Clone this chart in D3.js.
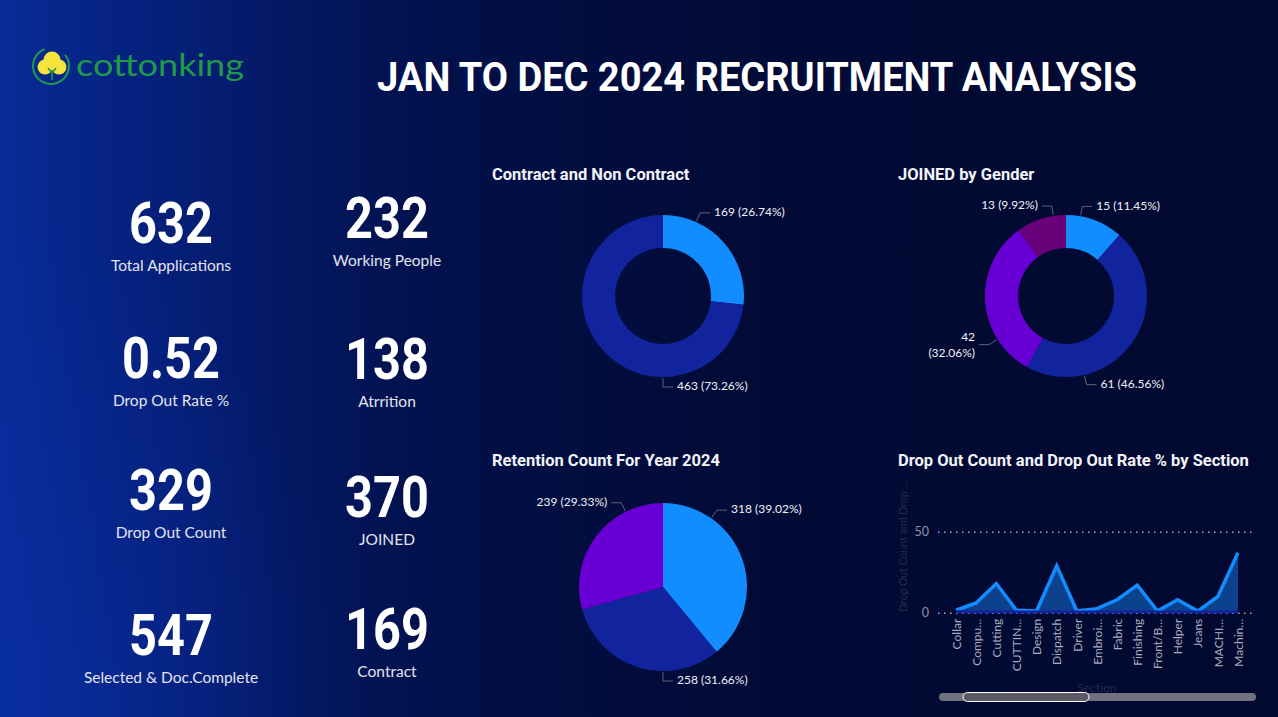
<!DOCTYPE html>
<html>
<head>
<meta charset="utf-8">
<script src="https://cdn.jsdelivr.net/npm/d3@7"></script>
<style>
  html, body { margin: 0; padding: 0; background: #020a30; overflow: hidden; }
  svg { display: block; }
</style>
</head>
<body>
<svg id="dash" width="1278" height="717"></svg>
<script>
// ---- data ----
const kpiValues = ['632', '232', '0.52', '138', '329', '370', '547', '169']
const kpiLabels = ['Total Applications', 'Working People', 'Drop Out Rate %', 'Atrrition',
  'Drop Out Count', 'JOINED', 'Selected & Doc.Complete', 'Contract']

const contractCats = ['Contract', 'Non Contract']
const contractCounts = [169, 463]

const genderCats = ['Female', 'Male', 'Women', 'Other']
const genderCounts = [15, 61, 42, 13]

const retentionCats = ['Retained', 'Left', 'Pending']
const retentionCounts = [318, 258, 239]

const sections = ['Collar', 'Compu…', 'Cutting', 'CUTTIN…', 'Design', 'Dispatch', 'Driver', 'Embroi…',
  'Fabric', 'Finishing', 'Front/B…', 'Helper', 'Jeans', 'MACHI…', 'Machin…']
const dropCounts = [1.5, 6, 18, 1.5, 1, 29, 1, 2.5, 8, 17, 1, 8, 1, 10, 37]
const dropRates = [0.6, 0.5, 0.6, 0.5, 0.5, 0.6, 0.5, 0.5, 0.5, 0.6, 0.5, 0.5, 0.5, 0.5, 0.6]

const blue = '#118dff', navy = '#12239e', violet = '#6800d6', plum = '#6b007b'
const sans = 'Lato, "Noto Sans", sans-serif'
const din = 'Roboto, "DejaVu Sans", sans-serif'

let svg = d3.select('#dash')

// ---- background ----
let defs = svg.append('defs')
let bg = defs.append('linearGradient').attr('id', 'bg')
  .attr('x1', 0).attr('y1', 0).attr('x2', 1).attr('y2', 0)
;[[0, '#082b98'], [0.08, '#062384'], [0.16, '#051d72'], [0.24, '#03175f'], [0.32, '#02124f'],
  [0.42, '#020e42'], [0.6, '#020b36'], [1, '#020930']]
  .forEach(s => bg.append('stop').attr('offset', s[0]).attr('stop-color', s[1]))
let glow = defs.append('radialGradient').attr('id', 'glow')
  .attr('cx', 0).attr('cy', 1).attr('r', 0.7)
glow.append('stop').attr('offset', 0).attr('stop-color', '#0b33b0').attr('stop-opacity', 0.45)
glow.append('stop').attr('offset', 1).attr('stop-color', '#0b33b0').attr('stop-opacity', 0)

svg.append('rect').attr('width', 1278).attr('height', 717).attr('fill', 'url(#bg)')
svg.append('rect').attr('width', 500).attr('height', 717).attr('fill', 'url(#glow)')

// ---- logo ----
let logo = svg.append('g')
logo.append('path')
  .attr('d', d3.arc()({ innerRadius: 17, outerRadius: 19, startAngle: 0.9, endAngle: 2 * Math.PI - 0.35 }))
  .attr('transform', 'translate(51,66)')
  .attr('fill', '#1f9a4a')
;[[45, 67, 7.5], [59, 67, 7.5], [52, 60, 8.5]].forEach(c =>
  logo.append('circle').attr('cx', c[0]).attr('cy', c[1]).attr('r', c[2]).attr('fill', '#f6e23c'))
logo.append('path').attr('d', 'M52,80 L52,70 M52,73 L48,68 M52,73 L56,68')
  .attr('stroke', '#1f9a4a').attr('stroke-width', 1.6).attr('fill', 'none')
logo.append('text').attr('x', 76).attr('y', 76)
  .attr('font-family', sans).attr('font-size', 31).attr('fill', '#1f9a4a')
  .attr('textLength', 168).attr('lengthAdjust', 'spacingAndGlyphs')
  .text('cottonking')

// ---- title ----
svg.append('text').attr('x', 757).attr('y', 91)
  .attr('text-anchor', 'middle')
  .attr('font-family', din).attr('font-weight', 700).attr('font-size', 40)
  .attr('fill', '#ffffff')
  .attr('textLength', 760).attr('lengthAdjust', 'spacingAndGlyphs')
  .text('JAN TO DEC 2024 RECRUITMENT ANALYSIS')

// ---- KPI cards ----
let colX = [171, 387]
let rowY = [[243, 378, 510, 655], [238, 379, 517, 649]]
kpiValues.forEach((v, i) => {
  let col = i % 2, row = Math.floor(i / 2)
  let x = colX[col], y = rowY[col][row]
  svg.append('text')
    .attr('transform', 'translate(' + x + ',' + y + ') scale(0.84,1)')
    .attr('text-anchor', 'middle')
    .attr('font-family', din)
    .attr('font-weight', 700).attr('font-size', 58).attr('fill', '#ffffff')
    .text(v)
  svg.append('text').attr('x', x).attr('y', y + 28)
    .attr('text-anchor', 'middle')
    .attr('font-family', sans).attr('font-size', 15.5).attr('fill', '#e2e4ee')
    .text(kpiLabels[i])
})

// ---- chart titles ----
function title(x, y, t) {
  svg.append('text').attr('x', x).attr('y', y)
    .attr('font-family', din).attr('font-weight', 700).attr('font-size', 16.5)
    .attr('fill', '#f2f3f8').text(t)
}
title(492, 180, 'Contract and Non Contract')
title(898, 180, 'JOINED by Gender')
title(492, 466, 'Retention Count For Year 2024')
title(898, 466, 'Drop Out Count and Drop Out Rate % by Section')

// ---- pies / donuts ----
function labelAngle(d) {
  let span = d.endAngle - d.startAngle
  let lo = d.startAngle + span * 0.25, hi = d.endAngle - span * 0.25
  let best = (lo + hi) / 2, bestDist = Infinity
  ;[0, Math.PI, 2 * Math.PI].forEach(v => {
    let a = Math.max(lo, Math.min(hi, v))
    if (Math.abs(a - v) < bestDist) { bestDist = Math.abs(a - v); best = a }
  })
  return best
}

function drawPie(cats, counts, colors, cx, cy, r, inner) {
  let total = d3.sum(counts)
  let data = cats.map((c, i) => ({ cat: c, value: counts[i] }))
  let arcs = d3.pie().sort(null).value(d => d.value)(data)
  let g = svg.append('g').attr('transform', 'translate(' + cx + ',' + cy + ')')
  let arc = d3.arc().innerRadius(inner).outerRadius(r)
  let color = d3.scaleOrdinal().domain(cats).range(colors)

  g.selectAll('path.slice')
    .data(arcs)
    .enter()
    .append('path')
    .attr('class', 'slice')
    .attr('d', arc)
    .attr('fill', d => color(d.data.cat))

  arcs.forEach(d => {
    let a = labelAngle(d)
    let sx = Math.sin(a), sy = -Math.cos(a)
    let side = sx >= -0.001 ? 1 : -1
    let p0 = [sx * (r + 1), sy * (r + 1)]
    let p1 = [sx * (r + 10), sy * (r + 10)]
    let p2 = [p1[0] + side * 10, p1[1]]
    g.append('polyline')
      .attr('points', [p0, p1, p2].map(p => p.join(',')).join(' '))
      .attr('fill', 'none').attr('stroke', '#5d6275').attr('stroke-width', 1)

    let pct = '(' + (d.data.value / total * 100).toFixed(2) + '%)'
    let t = g.append('text')
      .attr('x', p2[0] + side * 4).attr('y', p2[1])
      .attr('text-anchor', side > 0 ? 'start' : 'end')
      .attr('dominant-baseline', 'middle')
      .attr('font-family', sans).attr('font-size', 12).attr('fill', '#f0f1f8')
      .text(d.data.value + ' ' + pct)
    let w = t.node().getComputedTextLength()
    if (side < 0 && p2[0] - 4 - w < -(r + 48)) {
      t.text(null)
      t.append('tspan').attr('x', p2[0] - 4).attr('dy', -7).text(d.data.value)
      t.append('tspan').attr('x', p2[0] - 4).attr('dy', 16).text(pct)
    }
  })
}

drawPie(contractCats, contractCounts, [blue, navy], 663, 296, 81, 48)
drawPie(genderCats, genderCounts, [blue, navy, violet, plum], 1066, 296, 81, 48)
drawPie(retentionCats, retentionCounts, [blue, navy, violet], 663, 587, 84, 0)

// ---- drop out area chart ----
let x = d3.scalePoint().domain(sections).range([956, 1238])
let y = d3.scaleLinear().domain([0, 50]).range([612.7, 531.7])
let plotLeft = 938, plotRight = 1256

let yAxis = svg.append('g')
  .attr('transform', 'translate(' + plotLeft + ',0)')
  .call(d3.axisLeft(y).tickValues([0, 50]).tickSize(-(plotRight - plotLeft)).tickPadding(9))
yAxis.select('.domain').remove()
yAxis.selectAll('line')
  .attr('stroke', '#a7acc0').attr('stroke-width', 1.5).attr('stroke-dasharray', '1.5,4.5')
yAxis.selectAll('text')
  .attr('font-family', sans).attr('font-size', 12.5).attr('fill', '#8e92a4')

let area = d3.area().x((d, i) => x(sections[i])).y0(y(0)).y1(d => y(d))
let line = d3.line().x((d, i) => x(sections[i])).y(d => y(d))

svg.append('path').datum(dropCounts).attr('d', area).attr('fill', '#0c418c')
svg.append('path').datum(dropCounts).attr('d', line)
  .attr('fill', 'none').attr('stroke', blue).attr('stroke-width', 3.5)
svg.append('path').datum(dropRates).attr('d', line)
  .attr('fill', 'none').attr('stroke', navy).attr('stroke-width', 3)

let xAxis = svg.append('g')
  .attr('transform', 'translate(0,' + y(0) + ')')
  .call(d3.axisBottom(x).tickSize(0).tickPadding(0))
xAxis.select('.domain').remove()
xAxis.selectAll('text')
  .attr('font-family', sans).attr('font-size', 12).attr('fill', '#a8acbd')
  .attr('text-anchor', 'end')
  .attr('dy', '0.35em')
  .attr('transform', 'translate(0,6) rotate(-90)')

svg.append('text')
  .attr('transform', 'translate(907,612) rotate(-90)')
  .attr('font-family', sans).attr('font-size', 10.5).attr('fill', '#262b45')
  .text('Drop Out Count and Drop …')
svg.append('text').attr('x', 1097).attr('y', 692)
  .attr('text-anchor', 'middle')
  .attr('font-family', sans).attr('font-size', 12).attr('fill', '#262b45')
  .text('Section')

// scroll bar
svg.append('rect').attr('x', 939).attr('y', 693).attr('width', 317).attr('height', 8)
  .attr('rx', 4).attr('fill', '#6f717f')
svg.append('rect').attr('x', 963).attr('y', 692.5).attr('width', 126).attr('height', 9)
  .attr('rx', 4.5).attr('fill', '#5a5b66').attr('stroke', '#ffffff').attr('stroke-width', 1)
</script>
</body>
</html>
